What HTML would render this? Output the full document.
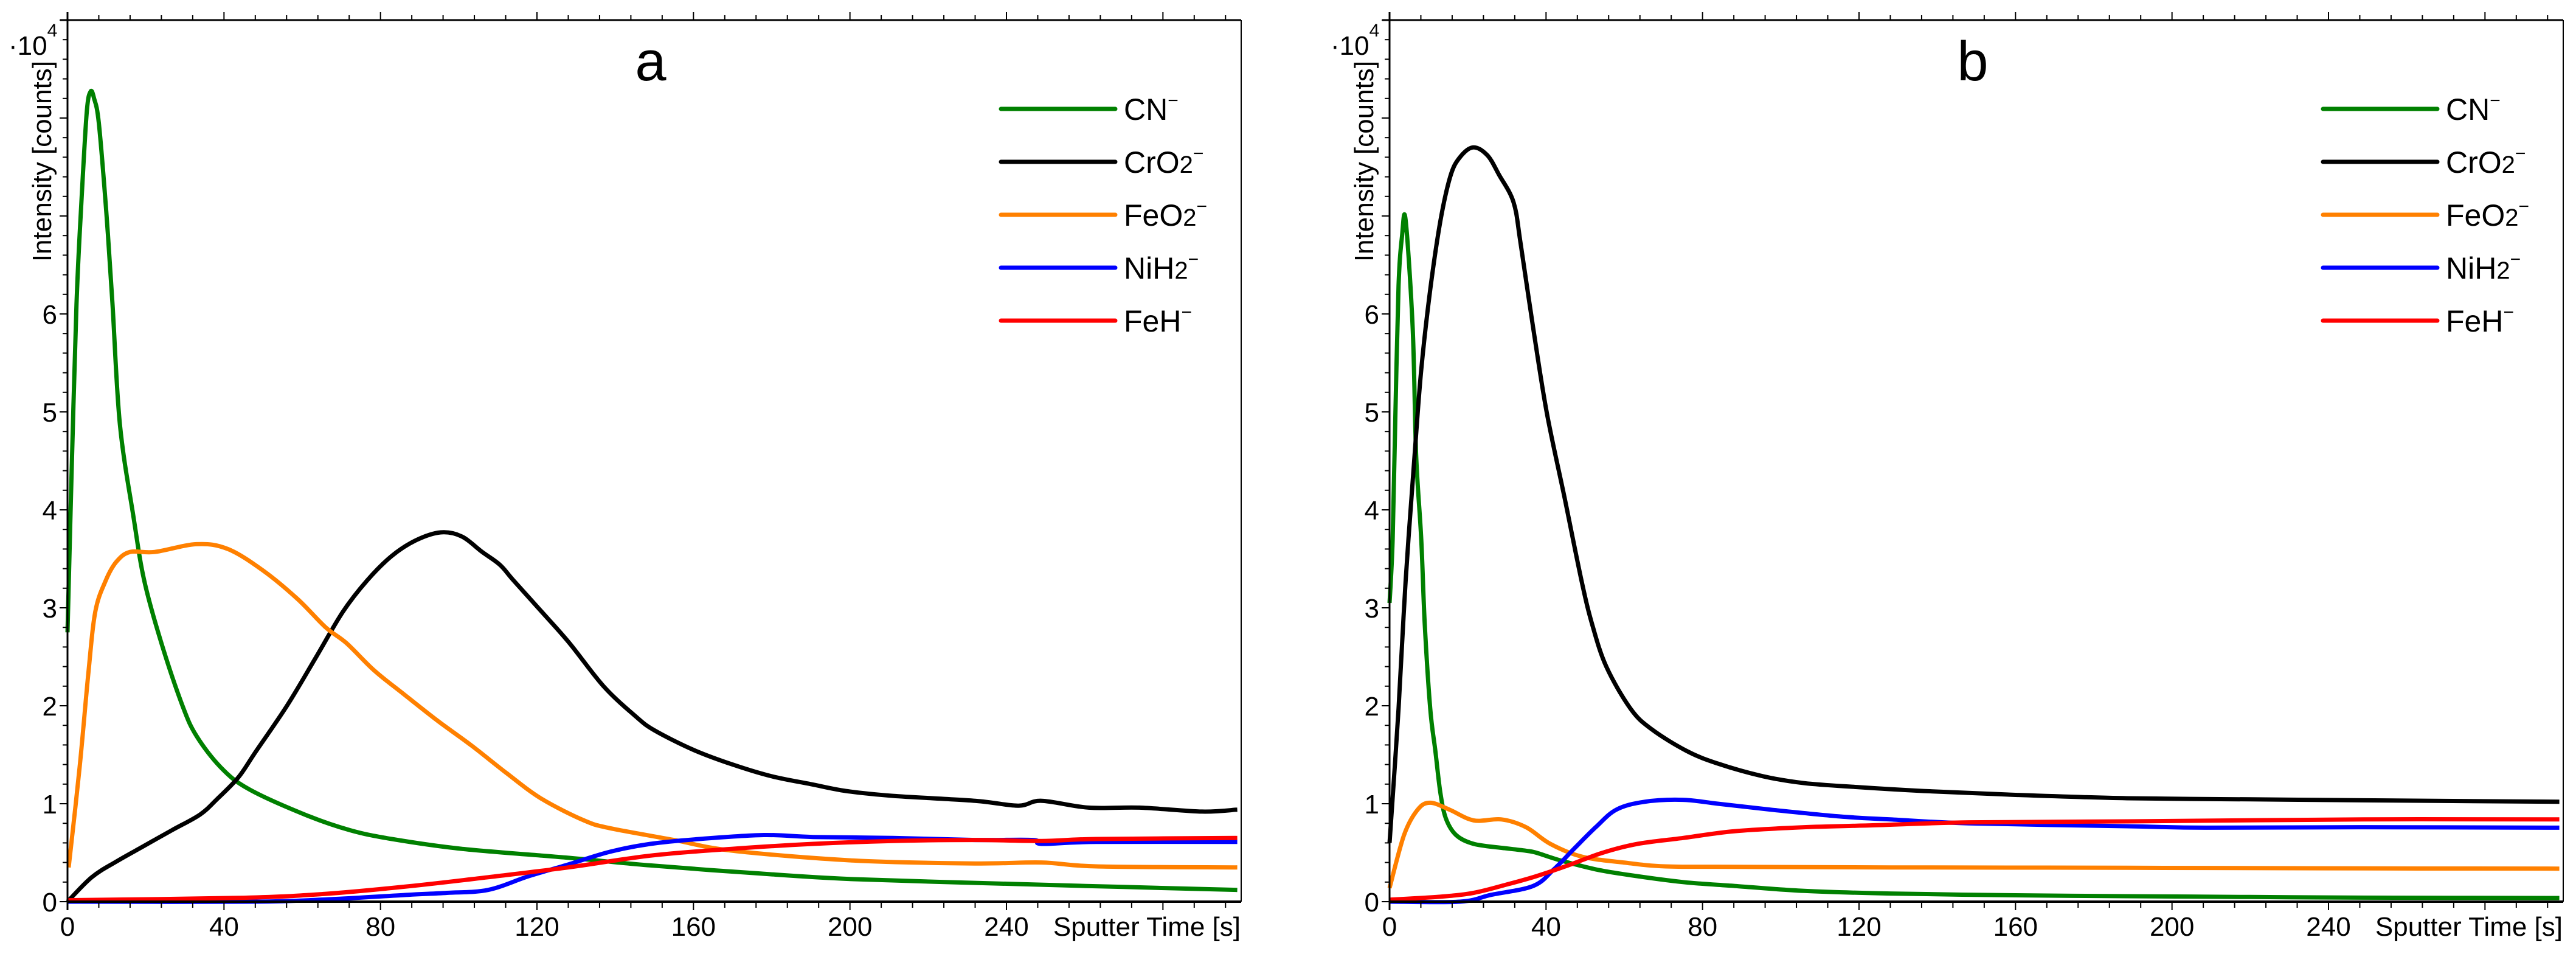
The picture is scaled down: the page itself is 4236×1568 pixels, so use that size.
<!DOCTYPE html>
<html><head><meta charset="utf-8"><style>
html,body{margin:0;padding:0;background:#fff;}
svg{display:block;font-family:"Liberation Sans",Arial,sans-serif;}
</style></head><body>
<svg id="chart" width="4236" height="1568" viewBox="0 0 4236 1568" xmlns="http://www.w3.org/2000/svg"></svg>
<script>
// ---- data (intensity in 1e4 counts vs sputter time in s) ----
const seriesNames = ["CN", "CrO2", "FeO2", "NiH2", "FeH"];
const xTicks = [0, 40, 80, 120, 160, 200, 240];
const yTicks = [0, 1, 2, 3, 4, 5, 6];
// Panel a
const cnA_t = [0,1,2.3,3.5,4.9,5.9,6.8,8,9.9,11.5,13.4,16.9,19.6,24,29.4,33,39.2,46.3,60.6,72.2,82.9,100.7,127.4,149,176,201,242.6,270,299];
const cnA_v = [2.75,4.3,6.1,7.1,8.05,8.27,8.2,7.95,7.05,6.1,4.87,3.92,3.28,2.64,2.0,1.69,1.37,1.15,0.89,0.73,0.64,0.54,0.45,0.37,0.29,0.23,0.18,0.15,0.12];
const crA_t = [0,6.2,12.5,19.6,26.7,33.9,38.3,43.7,48.1,56.1,63.3,70.4,76.6,82.9,89.1,95.4,100.7,106,110.5,114,121.2,128.3,137,145,150,160,170,180,190,199,211,232,243,249,261,274,290,299];
const crA_v = [0,0.25,0.41,0.57,0.73,0.89,1.05,1.27,1.53,2.0,2.48,2.96,3.28,3.53,3.69,3.77,3.73,3.57,3.44,3.28,2.96,2.64,2.2,1.9,1.75,1.55,1.4,1.28,1.2,1.13,1.08,1.03,0.98,1.03,0.96,0.96,0.92,0.94];
const feoA_t = [0.3,3.1,5.3,7.1,9.8,12.5,16,22.3,33,41,50,58.8,66,71.3,78.4,85.6,94.5,103.4,112.3,121.2,132,138.7,155,170,201,232,249,263,299];
const feoA_v = [0.35,1.37,2.32,2.96,3.28,3.47,3.57,3.57,3.65,3.6,3.38,3.09,2.8,2.64,2.36,2.13,1.85,1.59,1.31,1.05,0.83,0.75,0.63,0.52,0.42,0.39,0.40,0.36,0.35];
const niA_t = [0,48,69.5,87,97,107.5,117.9,128,138.7,149,161.5,178,190.6,211,232,246.8,249,263,299];
const niA_v = [0,0,0.03,0.07,0.09,0.12,0.26,0.38,0.51,0.59,0.64,0.68,0.66,0.65,0.63,0.63,0.59,0.61,0.61];
const fehA_t = [0,45,66,86.7,107.5,128,149,170,190.6,211,232,249,263,299];
const fehA_v = [0.015,0.04,0.08,0.155,0.25,0.35,0.47,0.54,0.59,0.62,0.63,0.62,0.64,0.65];
// Panel b
const cnB_t = [0,0.8,1.5,2.3,3.2,4.1,5.9,6.8,8.1,9.0,10.4,11.7,13,14.4,17,21.5,28.6,34.9,37.5,43.8,52.7,61.6,75,88.3,106,128,160,188.5,220,249,299];
const cnB_v = [3.05,3.7,5.0,6.29,6.8,6.96,5.86,4.56,3.7,2.83,1.97,1.54,1.11,0.85,0.68,0.59,0.55,0.52,0.50,0.42,0.33,0.27,0.20,0.16,0.11,0.083,0.065,0.056,0.048,0.041,0.037];
const crB_t = [0,2.3,4.1,6.4,8.1,10.4,13,15.5,17.8,21.3,25,28,31.7,33.5,36.7,40.2,44.7,49.1,51.8,55.4,61.6,67,75.9,83.9,95.5,106,119.5,136.5,160,188.5,220,249,299];
const crB_v = [0.6,1.97,3.27,4.56,5.43,6.25,6.95,7.4,7.59,7.70,7.62,7.42,7.14,6.72,5.86,4.99,4.13,3.27,2.83,2.4,1.97,1.76,1.54,1.41,1.28,1.21,1.17,1.13,1.09,1.056,1.045,1.035,1.02];
const feoB_t = [0,3.7,7.2,10.4,15.3,21.5,28.6,34.9,41.1,49.1,59.8,70.5,88.3,128,188.5,249,299];
const feoB_v = [0.14,0.68,0.94,1.01,0.94,0.83,0.84,0.76,0.59,0.46,0.40,0.36,0.356,0.35,0.346,0.34,0.337];
const niB_t = [0,18,26,36.7,42,47.4,52.7,58,65.2,75,83.9,97.3,115,128,148,188.5,208.7,249,299];
const niB_v = [0,0,0.07,0.16,0.33,0.55,0.76,0.94,1.02,1.04,1.0,0.94,0.87,0.84,0.80,0.77,0.755,0.76,0.755];
const fehB_t = [0,12.6,21.5,30.4,37.5,45.6,54.5,63.4,75,88.3,106,124,148,188.5,249,299];
const fehB_v = [0.02,0.05,0.09,0.18,0.26,0.37,0.50,0.59,0.65,0.72,0.76,0.78,0.81,0.82,0.84,0.84];

const colors = ["#008000", "#000000", "#ff8000", "#0000ff", "#ff0000"];
const NS = "http://www.w3.org/2000/svg";
const svg = document.getElementById("chart");
function mk(tag, attrs, parent) {
  const e = document.createElementNS(NS, tag);
  for (const k in attrs) e.setAttribute(k, attrs[k]);
  (parent || svg).appendChild(e);
  return e;
}
const X0 = 111, XW = 1930, Y0 = 1482, YTOP = 33, XMAX = 300, YMAX = 9;
function sx(off, t) { return off + X0 + t / XMAX * XW; }
function sy(v) { return Y0 - v / YMAX * (Y0 - YTOP); }
function pathFrom(off, ts, vs) {
  const p = ts.map((t, i) => [sx(off, t), sy(vs[i])]);
  let d = "M" + p[0][0].toFixed(1) + "," + p[0][1].toFixed(1);
  for (let i = 0; i < p.length - 1; i++) {
    const p0 = p[i - 1] || p[i], p1 = p[i], p2 = p[i + 1], p3 = p[i + 2] || p2;
    const c1x = p1[0] + (p2[0] - p0[0]) / 6, c1y = p1[1] + (p2[1] - p0[1]) / 6;
    const c2x = p2[0] - (p3[0] - p1[0]) / 6, c2y = p2[1] - (p3[1] - p1[1]) / 6;
    d += " C" + c1x.toFixed(1) + "," + c1y.toFixed(1) + " " + c2x.toFixed(1) + "," + c2y.toFixed(1) + " " + p2[0].toFixed(1) + "," + p2[1].toFixed(1);
  }
  return d;
}
function drawPanel(off, label, series, pname) {
  const g = mk("g", {});
  
  
  series.forEach((s, i) => {
    const p = mk("path", { d: pathFrom(off, s[0], s[1]), fill: "none", stroke: colors[i], "stroke-width": 7, "stroke-linejoin": "round" }, g);
    
    
  });
  const ax = mk("g", { stroke: "#000" }, g);
  
  
  mk("line", { x1: off + 99, y1: YTOP, x2: off + X0 + XW, y2: YTOP, "stroke-width": 3 }, ax);
  mk("line", { x1: off + X0, y1: 20, x2: off + X0, y2: Y0 + 14, "stroke-width": 3 }, ax);
  mk("line", { x1: off + X0, y1: Y0, x2: off + X0 + XW, y2: Y0, "stroke-width": 4 }, ax);
  mk("line", { x1: off + X0 + XW, y1: YTOP, x2: off + X0 + XW, y2: Y0, "stroke-width": 2 }, ax);
  for (let t = 0; t <= XMAX; t += 8) {
    const x = sx(off, t), major = t % 40 === 0;
    mk("line", { x1: x, y1: Y0, x2: x, y2: Y0 + (major ? 14 : 10), "stroke-width": 2 }, ax);
    mk("line", { x1: x, y1: YTOP, x2: x, y2: YTOP - (major ? 13 : 8), "stroke-width": 2 }, ax);
  }
  for (let k = 0; k <= 45; k++) {
    const v = k * 0.2, y = sy(v), major = k % 5 === 0;
    mk("line", { x1: off + X0, y1: y, x2: off + X0 - (major ? 13 : 8), y2: y, "stroke-width": 2 }, ax);
  }
  xTicks.forEach(t => {
    const tx = mk("text", { x: sx(off, t), y: 1538, "font-size": 44, "text-anchor": "middle" }, g);
    tx.textContent = t;
    
    
  });
  yTicks.forEach(v => {
    const tx = mk("text", { x: off + 94, y: sy(v) + 16, "font-size": 44, "text-anchor": "end" }, g);
    tx.textContent = v;
    
    
  });
  const xt = mk("text", { x: off + 2040, y: 1538, "font-size": 44, "text-anchor": "end" }, g);
  xt.textContent = "Sputter Time [s]";
  
  
  const yt = mk("text", { x: 0, y: 0, "font-size": 44, "text-anchor": "end", transform: "translate(" + (off + 84) + ",100) rotate(-90)" }, g);
  yt.textContent = "Intensity [counts]";
  
  
  const sc = mk("text", { x: off + 14, y: 90, "font-size": 44 }, g);
  
  
  sc.innerHTML = '·10<tspan font-size="30" dy="-30">4</tspan>';
  const ti = mk("text", { x: off + 1070, y: 132, "font-size": 92, "text-anchor": "middle" }, g);
  ti.textContent = label;
  
  
  const labels = ['CN<tspan font-size="30" dy="-22">−</tspan>',
    'CrO<tspan font-size="40">2</tspan><tspan font-size="30" dy="-22">−</tspan>',
    'FeO<tspan font-size="40">2</tspan><tspan font-size="30" dy="-22">−</tspan>',
    'NiH<tspan font-size="40">2</tspan><tspan font-size="30" dy="-22">−</tspan>',
    'FeH<tspan font-size="30" dy="-22">−</tspan>'];
  labels.forEach((lb, i) => {
    const ly = 179 + i * 87;
    const le = mk("g", {}, g);
    
    
    mk("line", { x1: off + 1646, y1: ly, x2: off + 1834, y2: ly, stroke: colors[i], "stroke-width": 7, "stroke-linecap": "round" }, le);
    const t = mk("text", { x: off + 1848, y: ly + 18, "font-size": 50 }, le);
    t.innerHTML = lb;
  });
}
drawPanel(0, "a", [[cnA_t, cnA_v], [crA_t, crA_v], [feoA_t, feoA_v], [niA_t, niA_v], [fehA_t, fehA_v]], "a");
drawPanel(2174, "b", [[cnB_t, cnB_v], [crB_t, crB_v], [feoB_t, feoB_v], [niB_t, niB_v], [fehB_t, fehB_v]], "b");
</script>
</body></html>
